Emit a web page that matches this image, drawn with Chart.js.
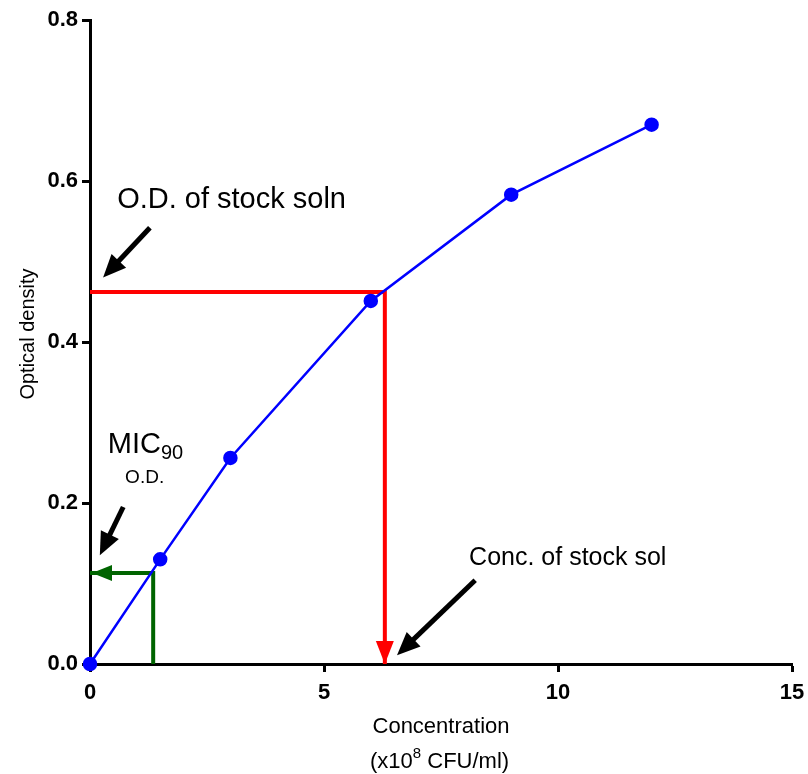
<!DOCTYPE html>
<html>
<head>
    <title>Optical density vs concentration</title>
    <script src="https://cdn.jsdelivr.net/npm/chart.js"></script>
    <style>
        body { margin: 0; background: #fff; }
        #wrap { width: 808px; height: 774px; }
    </style>
</head>
<body>
    <div id="wrap"><canvas id="od-chart"></canvas></div>
    <script>
        // standard curve
        const concentration = [0, 1.5, 3, 6, 9, 12];
        const opticalDensity = [0, 0.130, 0.256, 0.451, 0.583, 0.670];

        const xTicks = [0, 5, 10, 15];
        const yTicks = [0.0, 0.2, 0.4, 0.6, 0.8];

        // read-off lines (x, y pairs)
        const stockX = [0, 6.3, 6.3];
        const stockY = [0.462, 0.462, 0];
        const micX = [0, 1.35, 1.35];
        const micY = [0.113, 0.113, 0];

        // pointer arrows: [fromX, fromY, toX, toY]
        const pointerArrows = [
            [1.28, 0.542, 0.28, 0.480],
            [0.71, 0.195, 0.21, 0.135],
            [8.23, 0.104, 6.56, 0.011]
        ];

        const toPoints = (xs, ys) => xs.map((x, i) => ({ x: x, y: ys[i] }));
        const FONT = '"Liberation Sans", Arial, sans-serif';

        function arrowHead(ctx, x1, y1, x2, y2, len, half, color) {
            const a = Math.atan2(y2 - y1, x2 - x1);
            ctx.save();
            ctx.fillStyle = color;
            ctx.beginPath();
            ctx.moveTo(x2, y2);
            ctx.lineTo(x2 - len * Math.cos(a) + half * Math.sin(a), y2 - len * Math.sin(a) - half * Math.cos(a));
            ctx.lineTo(x2 - len * Math.cos(a) - half * Math.sin(a), y2 - len * Math.sin(a) + half * Math.cos(a));
            ctx.closePath();
            ctx.fill();
            ctx.restore();
        }

        const annotations = {
            id: 'annotations',
            afterDatasetsDraw(chart) {
                const ctx = chart.ctx;
                const xs = chart.scales.x, ys = chart.scales.y;
                const px = v => xs.getPixelForValue(v);
                const py = v => ys.getPixelForValue(v);

                // arrow heads on the read-off lines
                arrowHead(ctx, px(stockX[1]), py(stockY[1]), px(stockX[2]), py(stockY[2]), 23, 9, '#ff0000');
                arrowHead(ctx, px(micX[1]), py(micY[1]), px(micX[0]) + 2, py(micY[0]), 20, 8, '#006400');

                // black pointer arrows
                pointerArrows.forEach(a => {
                    const x1 = px(a[0]), y1 = py(a[1]), x2 = px(a[2]), y2 = py(a[3]);
                    const ang = Math.atan2(y2 - y1, x2 - x1);
                    ctx.save();
                    ctx.strokeStyle = '#000';
                    ctx.lineWidth = 5;
                    ctx.beginPath();
                    ctx.moveTo(x1, y1);
                    ctx.lineTo(x2 - 16 * Math.cos(ang), y2 - 16 * Math.sin(ang));
                    ctx.stroke();
                    ctx.restore();
                    arrowHead(ctx, x1, y1, x2, y2, 23, 10, '#000');
                });

                ctx.save();
                ctx.fillStyle = '#000';
                ctx.textBaseline = 'alphabetic';
                ctx.textAlign = 'left';
                ctx.font = '29px ' + FONT;
                ctx.fillText('O.D. of stock soln', px(0.58), py(0.566));
                ctx.font = '25px ' + FONT;
                ctx.fillText('Conc. of stock sol', px(8.10), py(0.123));

                ctx.font = '29px ' + FONT;
                const micW = ctx.measureText('MIC').width;
                ctx.fillText('MIC', px(0.38), py(0.262));
                ctx.font = '20px ' + FONT;
                ctx.fillText('90', px(0.38) + micW, py(0.262) + 6);
                ctx.font = '19px ' + FONT;
                ctx.fillText('O.D.', px(0.75), py(0.225));

                // axis titles
                const area = chart.chartArea;
                ctx.font = '22px ' + FONT;
                ctx.textAlign = 'center';
                ctx.fillText('Concentration', 441, area.bottom + 69);
                ctx.textAlign = 'left';
                let tx = 370;
                const ty = area.bottom + 104;
                ctx.fillText('(x10', tx, ty);
                tx += ctx.measureText('(x10').width;
                ctx.font = '15px ' + FONT;
                ctx.fillText('8', tx, ty - 10);
                tx += ctx.measureText('8').width;
                ctx.font = '22px ' + FONT;
                ctx.fillText(' CFU/ml)', tx, ty);

                ctx.translate(34, 334);
                ctx.rotate(-Math.PI / 2);
                ctx.textAlign = 'center';
                ctx.font = '20px ' + FONT;
                ctx.fillText('Optical density', 0, 0);
                ctx.restore();
            }
        };

        const tickFont = { family: FONT, size: 22, weight: 'bold' };

        const ctx = document.getElementById('od-chart').getContext('2d');
        new Chart(ctx, {
            type: 'scatter',
            data: {
                datasets: [{
                    data: toPoints(concentration, opticalDensity),
                    showLine: true,
                    borderColor: '#0000ff',
                    backgroundColor: '#0000ff',
                    borderWidth: 2.5,
                    pointRadius: 6,
                    pointHoverRadius: 6,
                    clip: false,
                    order: 0
                }, {
                    data: toPoints(stockX, stockY),
                    showLine: true,
                    borderColor: '#ff0000',
                    borderWidth: 4,
                    pointRadius: 0,
                    clip: false,
                    order: 1
                }, {
                    data: toPoints(micX, micY),
                    showLine: true,
                    borderColor: '#006400',
                    borderWidth: 4,
                    pointRadius: 0,
                    clip: false,
                    order: 1
                }]
            },
            options: {
                responsive: true,
                maintainAspectRatio: false,
                animation: false,
                layout: { padding: { top: 20, right: 16, left: 0, bottom: 0 } },
                plugins: { legend: { display: false }, tooltip: { enabled: false } },
                scales: {
                    x: {
                        type: 'linear',
                        min: 0,
                        max: 15,
                        afterBuildTicks: s => { s.ticks = xTicks.map(v => ({ value: v })); },
                        afterFit: s => { s.height = 110; s.paddingRight = 0; s.paddingLeft = 0; },
                        ticks: { color: '#000', font: tickFont, padding: 8, maxRotation: 0 },
                        grid: { display: true, drawOnChartArea: false, drawTicks: true, tickLength: 8, tickWidth: 3, tickColor: '#000' },
                        border: { display: true, width: 3, color: '#000' }
                    },
                    y: {
                        min: 0,
                        max: 0.8,
                        afterBuildTicks: s => { s.ticks = yTicks.map(v => ({ value: v })); },
                        afterFit: s => { s.width = 90; s.paddingTop = 0; s.paddingBottom = 0; },
                        ticks: { color: '#000', font: tickFont, padding: 4, callback: v => v.toFixed(1) },
                        grid: { display: true, drawOnChartArea: false, drawTicks: true, tickLength: 8, tickWidth: 3, tickColor: '#000' },
                        border: { display: true, width: 3, color: '#000' }
                    }
                }
            },
            plugins: [annotations]
        });
    </script>
</body>
</html>
